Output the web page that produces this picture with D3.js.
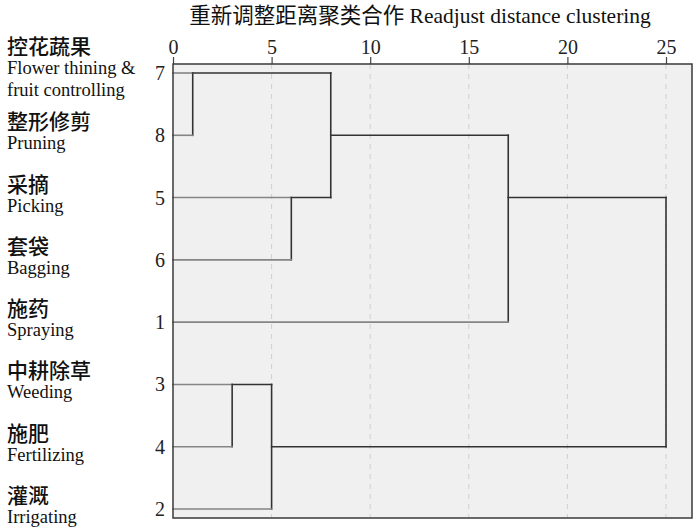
<!DOCTYPE html>
<html>
<head>
<meta charset="utf-8">
<script src="https://cdn.jsdelivr.net/npm/d3@7"></script>
<style>
  body { margin: 0; background: #fff; }
  svg { display: block; }
</style>
</head>
<body>
<svg id="chart" width="700" height="532"></svg>
<script>
// leaves in the order they appear top to bottom
const leafOrder = ['7', '8', '5', '6', '1', '3', '4', '2'];
const leafCn = ['控花蔬果', '整形修剪', '采摘', '套袋', '施药', '中耕除草', '施肥', '灌溉'];
const leafEn = [['Flower thining &', 'fruit controlling'], ['Pruning'], ['Picking'], ['Bagging'],
                ['Spraying'], ['Weeding'], ['Fertilizing'], ['Irrigating']];

// merges: ids c1..c7, children, distance, and the row the cluster line leaves from
const mergeId = ['c1', 'c2', 'c3', 'c4', 'c5', 'c6', 'c7'];
const mergeLeft = ['7', '5', 'c1', 'c3', '3', 'c5', 'c4'];
const mergeRight = ['8', '6', 'c2', '1', '4', '2', 'c6'];
const mergeHeight = [1, 6, 8, 17, 3, 5, 25];
const mergeRow = ['7', '5', '8', '5', '3', '4', null];

const xTicks = [0, 5, 10, 15, 20, 25];
const titleText = '重新调整距离聚类合作 Readjust distance clustering';

const svg = d3.select('#chart');
const plotL = 173, plotR = 692, plotT = 64, plotB = 518;

const x = d3.scaleLinear().domain([0, 25]).range([plotL, 666]);
const y = d3.scalePoint().domain(leafOrder).range([73, 509]);

// plot panel
svg.append('rect')
    .attr('x', plotL).attr('y', plotT)
    .attr('width', plotR - plotL).attr('height', plotB - plotT)
    .attr('fill', '#f0f0f0');

// dashed grid
svg.selectAll('.grid')
    .data(xTicks.filter(d => d > 0))
    .enter()
    .append('line')
    .attr('class', 'grid')
    .attr('x1', d => x(d)).attr('x2', d => x(d))
    .attr('y1', plotT).attr('y2', plotB)
    .attr('stroke', '#cfcfcf')
    .attr('stroke-width', 1)
    .attr('stroke-dasharray', '5,5');

// top axis
const axis = svg.append('g')
    .attr('transform', `translate(0, ${plotT})`)
    .call(d3.axisTop(x).tickValues(xTicks).tickSize(7).tickPadding(3));
axis.select('.domain').remove();
axis.selectAll('.tick line').attr('stroke', '#444').attr('stroke-width', 1.2);
axis.selectAll('.tick text')
    .attr('font-family', '"Liberation Serif", serif')
    .attr('font-size', 20)
    .attr('fill', '#222');

// build node lookup
const nodes = {};
leafOrder.forEach(k => { nodes[k] = { y: y(k), h: 0, leaf: true }; });
mergeId.forEach((id, i) => {
    nodes[id] = {
        h: mergeHeight[i],
        y: mergeRow[i] ? y(mergeRow[i]) : null,
        kids: [mergeLeft[i], mergeRight[i]],
        leaf: false
    };
});

const segs = [];
mergeId.forEach(id => {
    const n = nodes[id];
    const ys = n.kids.map(k => nodes[k].y);
    segs.push({ x1: x(n.h), x2: x(n.h), y1: d3.min(ys), y2: d3.max(ys), leaf: false });
    n.kids.forEach(k => {
        const c = nodes[k];
        segs.push({ x1: x(c.h), x2: x(n.h), y1: c.y, y2: c.y, leaf: c.leaf });
    });
});

svg.append('g')
    .selectAll('line')
    .data(segs)
    .enter()
    .append('line')
    .attr('x1', d => d.x1).attr('x2', d => d.x2)
    .attr('y1', d => d.y1).attr('y2', d => d.y2)
    .attr('stroke', d => d.leaf ? '#858585' : '#333')
    .attr('stroke-width', 1.6)
    .attr('stroke-linecap', 'square');

// frame
svg.append('rect')
    .attr('x', plotL).attr('y', plotT)
    .attr('width', plotR - plotL).attr('height', plotB - plotT)
    .attr('fill', 'none')
    .attr('stroke', '#3a3a3a')
    .attr('stroke-width', 1.5);

// leaf numbers
svg.selectAll('.num')
    .data(leafOrder)
    .enter()
    .append('text')
    .attr('class', 'num')
    .attr('x', 165)
    .attr('y', d => y(d) + 7)
    .attr('text-anchor', 'end')
    .attr('font-family', '"Liberation Serif", serif')
    .attr('font-size', 20)
    .attr('fill', '#222')
    .text(d => d);

// row labels
leafOrder.forEach((k, i) => {
    const yy = y(k);
    const n = leafEn[i].length;
    const cnBase = yy - 6 - 13 * (n - 1);
    svg.append('text')
        .attr('x', 7).attr('y', cnBase)
        .attr('font-family', '"Noto Sans CJK SC", sans-serif')
        .attr('font-size', 21)
        .attr('font-weight', 500)
        .attr('fill', '#111')
        .text(leafCn[i]);
    leafEn[i].forEach((t, j) => {
        svg.append('text')
            .attr('x', 7).attr('y', cnBase + 20 + j * 22)
            .attr('font-family', '"Liberation Serif", serif')
            .attr('font-size', 18.5)
            .attr('fill', '#111')
            .text(t);
    });
});

// title
svg.append('text')
    .attr('x', 420).attr('y', 23)
    .attr('text-anchor', 'middle')
    .attr('font-family', '"Liberation Serif", "Noto Sans CJK SC", serif')
    .attr('font-size', 21.5)
    .attr('fill', '#111')
    .text(titleText);
</script>
</body>
</html>
